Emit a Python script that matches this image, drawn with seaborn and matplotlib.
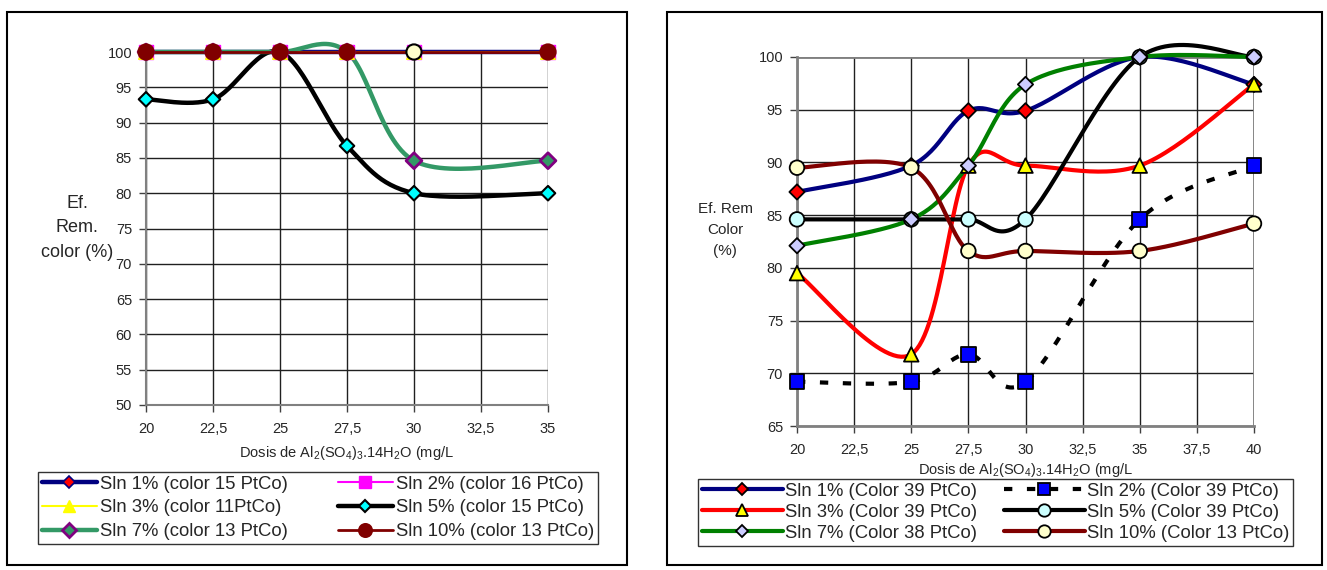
"""
Plot colour removal efficiency vs coagulant dose (two panels).
"""

import numpy as np
import matplotlib
matplotlib.use('Agg')
import matplotlib.pyplot as plt
from matplotlib.lines import Line2D
from matplotlib.patches import Rectangle
import seaborn as sns


# Data

dose_a = [20, 22.5, 25, 27.5, 30, 35]
sln1_a = [100, 100, 100, 100, 100, 100]
sln2_a = [100, 100, 100, 100, 100, 100]
sln3_a = [100, 100, 100, 100, 100, 100]
sln5_a = [93.3, 93.3, 100, 86.7, 80.0, 80.0]
sln7_a = [100, 100, 100, 100, 84.6, 84.6]
sln10_a = [100, 100, 100, 100, 100, 100]
odd_point_a = 30   # dose where the 10% marker is drawn pale
labels_a = ['Sln 1% (color 15 PtCo)', 'Sln 2% (color 16 PtCo)',
            'Sln 3% (color 11PtCo)', 'Sln 5% (color 15 PtCo)',
            'Sln 7% (color 13 PtCo)', 'Sln 10% (color 13 PtCo)']
xticks_a = [20, 22.5, 25, 27.5, 30, 32.5, 35]
yticks_a = [50, 55, 60, 65, 70, 75, 80, 85, 90, 95, 100]

dose_b = [20, 25, 27.5, 30, 35, 40]
sln1_b = [87.2, 89.7, 94.9, 94.9, 100, 97.4]
sln2_b = [69.2, 69.2, 71.8, 69.2, 84.6, 89.7]
sln3_b = [79.5, 71.8, 89.7, 89.7, 89.7, 97.4]
sln5_b = [84.6, 84.6, 84.6, 84.6, 100, 100]
sln7_b = [82.1, 84.6, 89.7, 97.4, 100, 100]
sln10_b = [89.5, 89.5, 81.6, 81.6, 81.6, 84.2]
labels_b = ['Sln 1% (Color 39 PtCo)', 'Sln 2% (Color 39 PtCo)',
            'Sln 3% (Color 39 PtCo)', 'Sln 5% (Color 39 PtCo)',
            'Sln 7% (Color 38 PtCo)', 'Sln 10% (Color 13 PtCo)']
xticks_b = [20, 22.5, 25, 27.5, 30, 32.5, 35, 37.5, 40]
yticks_b = [65, 70, 75, 80, 85, 90, 95, 100]

xlabel = 'Dosis de Al$_2$(SO$_4$)$_3$.14H$_2$O (mg/L'


def smooth(x, y, n=30):
    """Excel-like smoothed line (Bezier through the points)"""
    p = np.column_stack([x, y]).astype(float)
    pad = np.vstack([p[0], p, p[-1]])
    t = np.linspace(0, 1, n)[:, None]
    out = []
    for i in range(len(p) - 1):
        b0 = p[i]
        b3 = p[i + 1]
        b1 = b0 + (pad[i + 2] - pad[i]) / 6.0
        b2 = b3 - (pad[i + 3] - pad[i + 1]) / 6.0
        seg = ((1 - t)**3 * b0 + 3 * (1 - t)**2 * t * b1
               + 3 * (1 - t) * t**2 * b2 + t**3 * b3)
        out.append(seg if i == 0 else seg[1:])
    out = np.vstack(out)
    return out[:, 0], out[:, 1]


def draw(ax, x, y, k, line, mark):
    """Smoothed line plus markers for one series"""
    xs, ys = smooth(x, y)
    sns.lineplot(x=xs, y=ys, ax=ax, sort=False, estimator=None,
                 legend=False, zorder=2 + k * 0.1, clip_on=False, **line)
    mark = dict(mark)
    face = mark.pop('face')
    faces = face if isinstance(face, list) else [face] * len(x)
    sns.scatterplot(x=x, y=y, ax=ax, c=faces, legend=False,
                    zorder=5 + k * 0.1, clip_on=False, **mark)


def handle(line, mark, scale=0.85):
    face = mark['face'][0] if isinstance(mark['face'], list) else mark['face']
    edge = mark['edgecolor'][0] if isinstance(mark['edgecolor'], list) else mark['edgecolor']
    return Line2D([0], [0], color=line['color'], lw=line['lw'],
                  linestyle=line.get('linestyle', '-'),
                  marker=mark['marker'], markersize=np.sqrt(mark['s']) * scale,
                  markerfacecolor=face, markeredgecolor=edge,
                  markeredgewidth=mark['linewidth'])


def row_order(items):
    """Legend fills by column; reorder so entries read by rows"""
    return items[0::2] + items[1::2]


def style_axes(ax, xticks, yticks, grid_color):
    ax.set_xticks(xticks)
    ax.set_xticklabels([('%g' % v).replace('.', ',') for v in xticks])
    ax.set_yticks(yticks)
    ax.set_xlim(xticks[0], xticks[-1])
    ax.set_ylim(yticks[0], yticks[-1])
    ax.grid(True, color=grid_color, linewidth=1.0)
    ax.set_axisbelow(True)
    for side in ['top', 'right']:
        ax.spines[side].set_visible(False)
    for side in ['left', 'bottom']:
        ax.spines[side].set_color('#808080')
        ax.spines[side].set_linewidth(1.5)
    ax.tick_params(direction='out', length=5, width=1, color='#404040',
                   labelsize=10.5, left=True, bottom=True)
    ax.tick_params(axis='x', pad=7)
    ax.tick_params(axis='y', pad=5)
    ax.set_xlabel('')
    ax.set_ylabel('')


def main():
    sns.set_theme(style='white')
    plt.rcParams['font.family'] = ['Liberation Sans', 'DejaVu Sans']
    plt.rcParams['mathtext.default'] = 'regular'

    fig = plt.figure(figsize=(13.27, 5.70), dpi=100)

    # panel frames
    for x0, w in [(7, 620), (667, 655)]:
        fig.patches.append(Rectangle((x0 / 1327, 5 / 570), w / 1327, 553 / 570,
                                     transform=fig.transFigure, fill=False,
                                     edgecolor='black', linewidth=1.5))

    # (a) left panel
    ax = fig.add_axes([146 / 1327, 1 - 405 / 570, 402 / 1327, 353 / 570])
    series_a = [
        (sln1_a, dict(color='#000080', lw=3.2),
         dict(marker='D', s=45, face='#FF0000', edgecolor='#000080', linewidth=1.2)),
        (sln2_a, dict(color='#FF00FF', lw=1.5),
         dict(marker='s', s=90, face='#FF00FF', edgecolor='#FF00FF', linewidth=1)),
        (sln3_a, dict(color='#FFFF00', lw=1.5),
         dict(marker='^', s=110, face='#FFFF00', edgecolor='#FFFF00', linewidth=1)),
        (sln5_a, dict(color='black', lw=3.2),
         dict(marker='D', s=55, face='#00FFFF', edgecolor='black', linewidth=1.5)),
        (sln7_a, dict(color='#339966', lw=3.2),
         dict(marker='D', s=65, face='#339966', edgecolor='#800080', linewidth=2)),
        (sln10_a, dict(color='#800000', lw=2),
         dict(marker='o', s=120,
              face=['#FFFFCC' if d == odd_point_a else '#800000' for d in dose_a],
              edgecolor=['black' if d == odd_point_a else '#800000' for d in dose_a],
              linewidth=1.5)),
    ]
    handles = []
    for k, (y, line, mark) in enumerate(series_a):
        handles.append(handle(line, mark))
        draw(ax, dose_a, y, k, line, mark)
    style_axes(ax, xticks_a, yticks_a, '#202020')
    ax.set_xlabel(xlabel, fontsize=10.5, labelpad=6)
    fig.text(77 / 1327, 1 - 228 / 570, 'Ef.\nRem.\ncolor (%)', ha='center',
             va='center', fontsize=13, linespacing=1.55)
    fig.legend(row_order(handles), row_order(labels_a), ncol=2, loc='upper left',
               bbox_to_anchor=(38 / 1327, 1 - 472 / 570), fontsize=13.3,
               frameon=True, fancybox=False, edgecolor='black',
               borderaxespad=0, borderpad=0.2, handlelength=3.0,
               handletextpad=0.15, columnspacing=2.7, labelspacing=0.36)

    # (b) right panel
    ax = fig.add_axes([797 / 1327, 1 - 426 / 570, 457 / 1327, 369 / 570])
    series_b = [
        (sln1_b, dict(color='#000080', lw=3),
         dict(marker='D', s=60, face='#FF0000', edgecolor='black', linewidth=1.3)),
        (sln2_b, dict(color='black', lw=3, linestyle=(0, (2, 3.5))),
         dict(marker='s', s=110, face='#0000FF', edgecolor='black', linewidth=1.3)),
        (sln3_b, dict(color='#FF0000', lw=3),
         dict(marker='^', s=110, face='#FFFF00', edgecolor='black', linewidth=1.3)),
        (sln5_b, dict(color='black', lw=3),
         dict(marker='o', s=110, face='#CCFFFF', edgecolor='black', linewidth=1.3)),
        (sln7_b, dict(color='#008000', lw=3),
         dict(marker='D', s=60, face='#CCCCFF', edgecolor='black', linewidth=1.3)),
        (sln10_b, dict(color='#800000', lw=3),
         dict(marker='o', s=110, face='#FFFFCC', edgecolor='black', linewidth=1.3)),
    ]
    handles = []
    for k, (y, line, mark) in enumerate(series_b):
        handles.append(handle(line, mark))
        draw(ax, dose_b, y, k, line, mark)
    style_axes(ax, xticks_b, yticks_b, '#202020')
    for side in ['left', 'bottom']:
        ax.spines[side].set_linewidth(2)
    ax.axhline(yticks_b[-1], color='#808080', lw=2, zorder=1.5)
    ax.axvline(xticks_b[-1], color='#808080', lw=2, zorder=1.5)
    ax.set_xlabel(xlabel, fontsize=10.5, labelpad=3)
    fig.text(725 / 1327, 1 - 230 / 570, 'Ef. Rem\nColor\n(%)', ha='center',
             va='center', fontsize=11, linespacing=1.6)
    fig.legend(row_order(handles), row_order(labels_b), ncol=2, loc='upper left',
               bbox_to_anchor=(698 / 1327, 1 - 479 / 570), fontsize=13.3,
               frameon=True, fancybox=False, edgecolor='black',
               borderaxespad=0, borderpad=0.2, handlelength=4.4,
               handletextpad=0.1, columnspacing=1.45, labelspacing=0.22)

    plt.savefig('out.png', dpi=100)


if __name__ == '__main__':
    main()
